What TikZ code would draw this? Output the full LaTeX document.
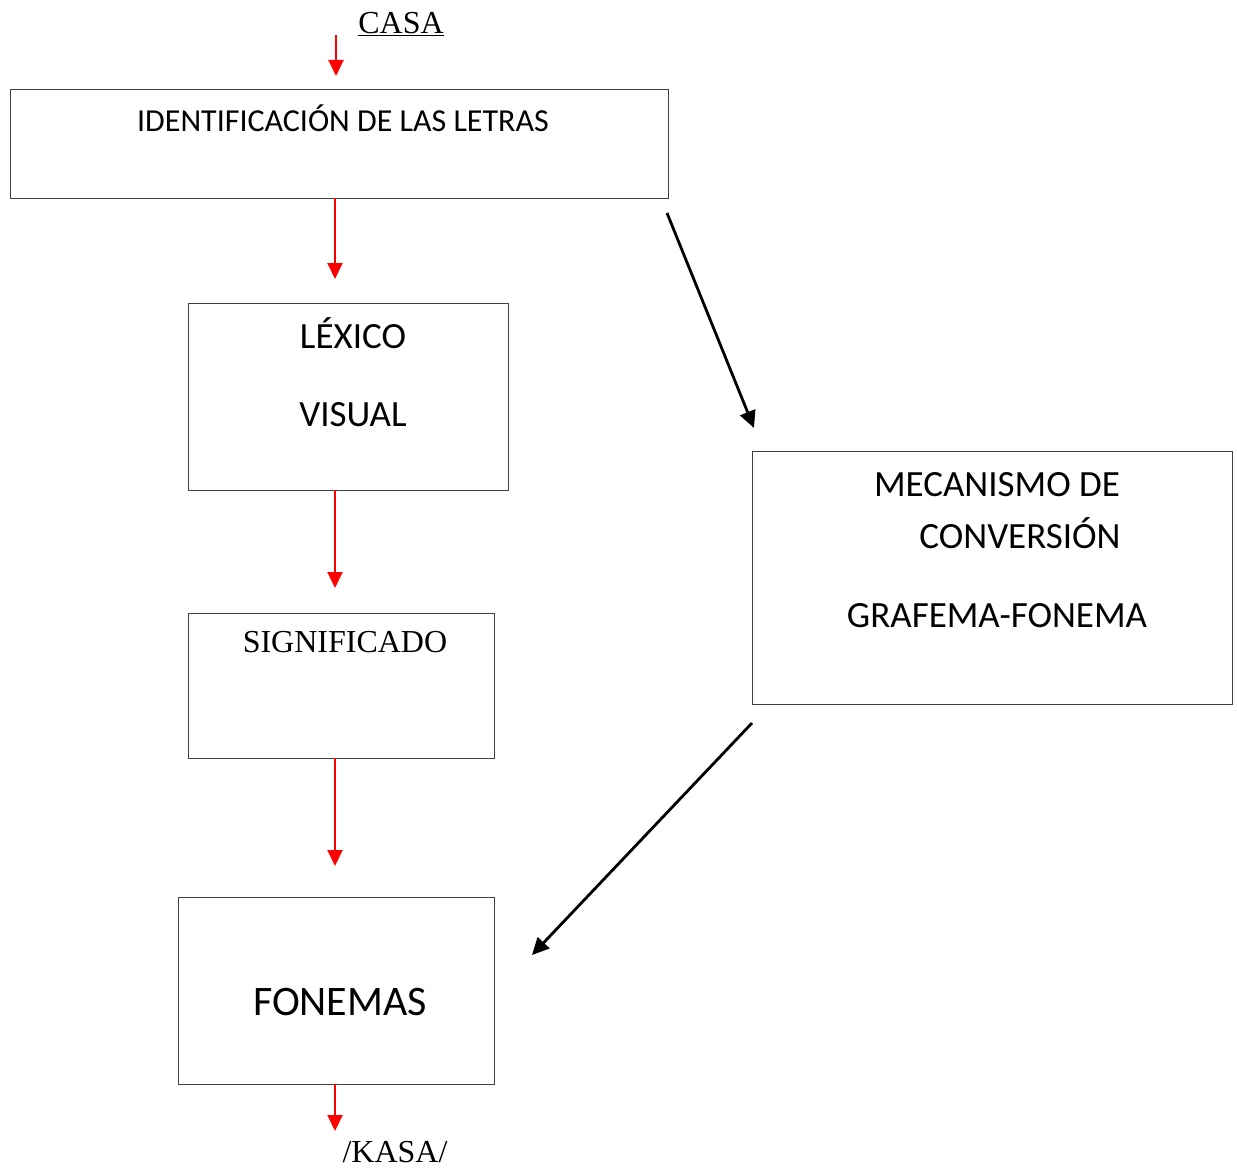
\documentclass[tikz,border=0pt]{standalone}
\usepackage{fontspec}
\setmainfont{Liberation Serif}
\newfontfamily\calib{Carlito}
\usetikzlibrary{arrows.meta}
\tikzset{
  box/.style={draw=black!75, line width=1pt, inner sep=0pt, anchor=north west},
  ctext/.style={font=\calib\fontsize{#1}{#1}\selectfont, inner sep=0pt, text height=0.644em, text depth=0pt, anchor=center},
  stext/.style={font=\fontsize{#1}{#1}\selectfont, inner sep=0pt, text height=0.662em, text depth=0pt, anchor=center},
  redarrow/.style={draw=red, line width=2pt, -{Triangle[length=16pt, width=15pt]}},
  blackarrow/.style={draw=black, line width=2.8pt, -{Triangle[length=17pt, width=16pt]}}
}
\begin{document}
\begin{tikzpicture}[x=1pt, y=-1pt]
\useasboundingbox (0,0) rectangle (1237,1169);
% boxes
\node[box, minimum width=658pt, minimum height=109pt] (b1) at (10,89) {};
\node[box, minimum width=320pt, minimum height=187pt] (b2) at (188,303) {};
\node[box, minimum width=306pt, minimum height=145pt] (b3) at (188,613) {};
\node[box, minimum width=316pt, minimum height=187pt] (b4) at (178,897) {};
\node[box, minimum width=480pt, minimum height=253pt] (b5) at (752,451) {};
% texts
\node[stext=32] (casa) at (401,30) {\underline{CASA}};
\node[ctext=32] (t1) at (343,128) {IDENTIFICACIÓN DE LAS LETRAS};
\node[ctext=37] (t2a) at (353,345) {LÉXICO};
\node[ctext=37] (t2b) at (353,423) {VISUAL};
\node[stext=32] (t3) at (345,649) {SIGNIFICADO};
\node[ctext=42] (t4) at (340,1012) {FONEMAS};
\node[ctext=37] (t5a) at (997,493) {MECANISMO DE};
\node[ctext=37] (t5b) at (1020,545) {CONVERSIÓN};
\node[ctext=37] (t5c) at (997,624) {GRAFEMA-FONEMA};
\node[stext=32] (kasa) at (395,1159) {/KASA/};
% arrow end coordinates
\coordinate (r1s) at (336,35);  \coordinate (r1e) at (336,76);
\coordinate (r2s) at (335,198); \coordinate (r2e) at (335,279);
\coordinate (r3s) at (335,490); \coordinate (r3e) at (335,588);
\coordinate (r4s) at (335,758); \coordinate (r4e) at (335,866);
\coordinate (r5s) at (335,1084);\coordinate (r5e) at (335,1131);
\coordinate (k1s) at (667,213); \coordinate (k1e) at (754,428);
\coordinate (k2s) at (752,723); \coordinate (k2e) at (532,955);
% arrows
\draw[redarrow] (r1s) -- (r1e);
\draw[redarrow] (r2s) -- (r2e);
\draw[redarrow] (r3s) -- (r3e);
\draw[redarrow] (r4s) -- (r4e);
\draw[redarrow] (r5s) -- (r5e);
\draw[blackarrow] (k1s) -- (k1e);
\draw[blackarrow] (k2s) -- (k2e);
\end{tikzpicture}
\end{document}
